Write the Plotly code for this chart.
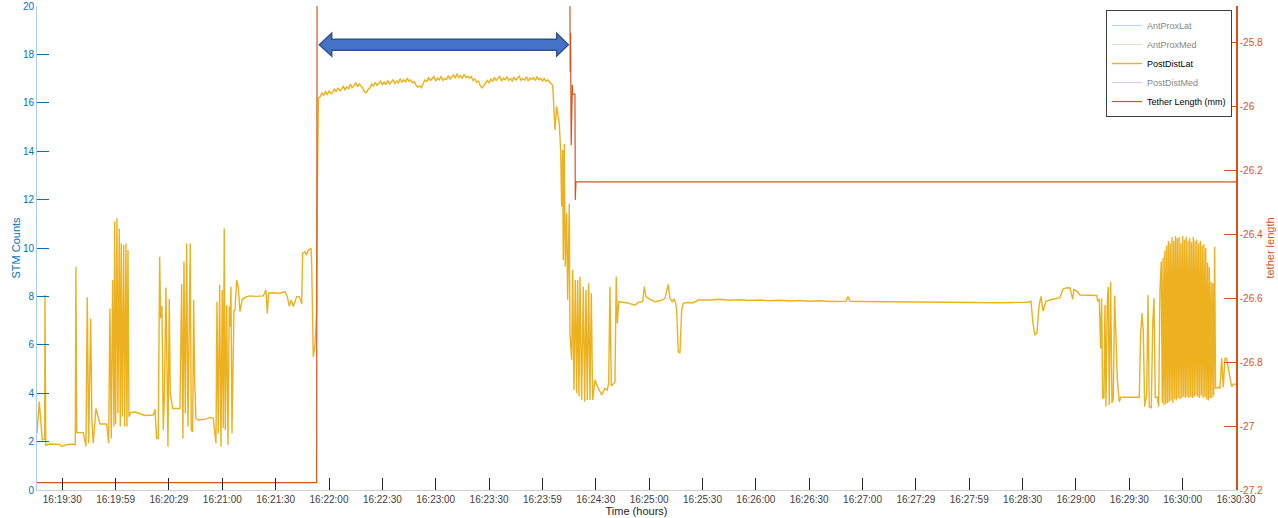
import pandas as pd
import plotly.graph_objects as go

# ---------------- data (time = seconds after 16:19:00) ----------------
BASE = pd.Timestamp("2021-01-01 16:19:00")

# PostDistLat (STM counts) : (seconds, counts)
post_early = [(15.8, 2.36), (17.07, 3.65), (18.76, 2.07), (20.1, 2.1), (20.27, 8.06), (20.72, 1.85),
    (23.09, 1.9), (28.71, 1.88), (29.83, 1.8), (32.08, 1.87), (36.19, 1.9), (37.31, 1.85),
    (37.7, 9.23), (38.1, 2.37), (41.81, 2.37), (43.33, 1.8), (44.06, 7.96), (44.85, 1.93),
    (45.97, 7.09), (46.7, 2.82), (47.43, 1.93), (48.95, 3.37), (51.2, 2.73), (54.97, 2.73),
    (56.09, 1.93), (56.82, 7.5), (57.55, 2.13), (58.34, 8.68), (59.07, 2.62), (59.47, 11.09),
    (60.03, 2.73), (60.76, 11.23), (61.32, 3.17), (62.05, 10.81), (62.62, 2.62), (63.18, 10.19),
    (63.74, 3.03), (64.53, 10.12), (65.09, 2.62), (65.82, 10.19), (66.38, 2.62), (66.95, 9.92),
    (67.51, 3.03), (68.46, 3.2), (70.88, 3.22), (76.5, 3.08), (81.17, 3.1), (82.13, 3.33),
    (83.08, 2.13), (83.98, 2.13), (84.77, 9.64), (85.33, 7.1), (86.06, 7.6), (86.8, 2.48),
    (87.36, 3.72), (88.31, 8.37), (89.44, 1.79), (90.17, 7.89), (90.73, 4.0), (92.08, 3.37),
    (96.19, 3.37), (97.14, 8.51), (97.87, 2.13), (98.44, 9.44), (99.17, 3.17), (99.95, 10.19),
    (100.68, 2.62), (101.98, 10.19), (102.54, 2.48), (103.32, 2.4), (103.89, 7.85), (104.45, 4.55),
    (105.18, 2.96), (106.48, 2.89), (111.2, 2.94), (113.05, 3.0), (114.91, 2.96), (116.43, 1.93),
    (116.99, 7.78), (117.72, 2.34), (118.51, 8.48), (119.24, 1.79), (119.97, 8.26), (120.53, 2.55),
    (121.1, 10.81), (121.66, 2.48), (122.45, 7.64), (123.18, 1.86), (123.91, 7.58), (124.3, 6.75),
    (124.86, 8.4), (125.43, 2.34), (126.55, 7.44), (127.11, 7.4), (128.07, 8.68), (128.97, 8.4),
    (129.93, 7.37), (131.22, 7.88), (133.69, 7.99), (135.55, 8.02), (139.0, 8.0), (143.03, 8.02),
    (144.54, 8.26), (145.28, 7.3), (146.06, 8.13), (148.65, 8.15), (152.42, 8.13), (155.23, 8.2),
    (156.52, 8.0), (157.65, 7.6), (158.77, 7.85), (159.9, 7.58), (161.81, 7.99), (163.27, 7.99),
    (164.62, 7.69), (165.18, 9.78), (166.48, 9.85), (167.3, 9.7), (168.33, 9.92), (169.85, 10.0),
    (170.24, 9.4), (170.58, 7.16), (171.14, 5.51), (172.1, 5.99), (173.05, 7.3), (173.5, 13.0),
    (174.06, 16.2)]

post_plateau = [(175, 16.25), (176, 16.4), (177, 16.3), (178, 16.48), (179, 16.32), (180, 16.5),
    (181, 16.38), (182, 16.42), (183, 16.58), (184, 16.45), (185, 16.62), (186, 16.5), (187, 16.55),
    (188, 16.7), (189, 16.52), (190, 16.66), (191, 16.58), (192, 16.78), (193, 16.62), (194, 16.7),
    (195, 16.84), (196, 16.66), (197, 16.78), (198, 16.7), (199, 16.6), (200, 16.45), (201, 16.42),
    (202, 16.55), (203, 16.62), (204, 16.78), (205, 16.68), (206, 16.85), (207, 16.72), (208, 16.8),
    (209, 16.9), (210, 16.74), (211, 16.86), (212, 16.75), (213, 16.92), (214, 16.78), (215, 16.85),
    (216, 16.95), (217, 16.8), (218, 16.9), (219, 16.82), (220, 17.0), (221, 16.85), (222, 16.95),
    (223, 16.86), (224, 17.02), (225, 16.88), (226, 16.94), (227, 16.82), (228, 16.88), (229, 16.72),
    (230, 16.65), (231, 16.7), (232, 16.62), (233, 16.82), (234, 16.95), (235, 16.88), (236, 17.05),
    (237, 16.92), (238, 17.0), (239, 17.08), (240, 16.9), (241, 17.02), (242, 16.95), (243, 17.1),
    (244, 16.92), (245, 17.0), (246, 16.96), (247, 17.12), (248, 16.98), (249, 17.05), (250, 17.15),
    (251, 17.02), (252, 17.2), (253, 17.05), (254, 17.12), (255, 17.0), (256, 17.18), (257, 17.04),
    (258, 17.1), (259, 17.02), (260, 17.08), (261, 16.92), (262, 16.98), (263, 16.85), (264, 16.9),
    (265, 16.72), (266, 16.62), (267, 16.7), (268, 16.8), (269, 16.92), (270, 16.82), (271, 16.98),
    (272, 16.88), (273, 17.05), (274, 16.92), (275, 17.0), (276, 17.1), (277, 16.9), (278, 17.02),
    (279, 16.95), (280, 17.08), (281, 16.92), (282, 17.0), (283, 16.9), (284, 17.06), (285, 16.94),
    (286, 17.02), (287, 17.1), (288, 16.92), (289, 17.0), (290, 16.94), (291, 17.08), (292, 16.9),
    (293, 17.02), (294, 16.96), (295, 17.05), (296, 16.92), (297, 17.08), (298, 16.95), (299, 17.02),
    (300, 16.9), (301, 17.0), (302, 16.88), (303, 16.95), (304, 16.85), (305, 16.8), (305.8, 16.7)]

post_drop = [(307.06, 14.88), (308.0, 15.84), (308.9, 15.5), (309.47, 15.15), (310.25, 14.05),
    (310.82, 11.7), (311.38, 14.05), (311.72, 9.5), (312.28, 14.3), (312.84, 9.23), (313.63, 11.43),
    (314.19, 7.85), (315.09, 11.84), (315.48, 6.47), (316.44, 5.37), (317.0, 9.09), (317.74, 4.13),
    (318.47, 8.68), (319.26, 4.0), (319.82, 8.68), (320.55, 3.86), (321.11, 8.81), (322.07, 3.72),
    (322.97, 8.4), (323.76, 3.65), (324.49, 8.26), (325.22, 3.72), (326.0, 8.54), (326.73, 3.72),
    (327.47, 8.13), (328.25, 3.72), (329.55, 4.55), (331.4, 4.2), (333.31, 3.93), (335.17, 4.2),
    (336.46, 4.13), (337.25, 4.4), (337.98, 8.4), (338.71, 4.3), (339.84, 4.4), (340.8, 4.45),
    (341.5, 8.81), (342.09, 6.89), (342.93, 7.78)]

post_flat = [(347.38, 7.74), (352.04, 7.64), (353.9, 7.75), (356.37, 7.79), (357.27, 8.4),
    (358.23, 7.99), (360.47, 7.88), (363.28, 7.78), (366.1, 7.82), (368.91, 7.92), (370.77, 8.5),
    (371.72, 7.92), (373.01, 7.78), (373.97, 7.9), (374.93, 7.71), (375.49, 7.44), (376.39, 5.72),
    (377.35, 5.65), (378.3, 7.44), (379.2, 7.71), (381.11, 7.74), (384.82, 7.74), (387.64, 7.85),
    (394.22, 7.85), (399.83, 7.88), (405.0, 7.84), (411.08, 7.86), (416.0, 7.83), (422.33, 7.85),
    (428.0, 7.82), (433.57, 7.84), (439.0, 7.81), (444.82, 7.83), (450.0, 7.8), (456.07, 7.82),
    (462.0, 7.79), (467.31, 7.81), (470.69, 7.8), (471.81, 8.0), (472.94, 7.8), (480.0, 7.79),
    (489.8, 7.78), (500.0, 7.77), (512.3, 7.76), (523.0, 7.75), (534.8, 7.74), (546.0, 7.75),
    (557.27, 7.74), (565.0, 7.75), (573.02, 7.76)]

post_late = [(574.71, 7.8), (575.83, 6.9), (576.96, 6.4), (578.08, 6.5), (579.21, 7.6),
    (580.33, 8.0), (581.46, 7.4), (583.14, 7.8), (585.39, 7.85), (588.2, 7.9), (591.0, 7.95),
    (592.7, 8.3), (594.4, 8.35), (596.64, 8.36), (598.16, 7.88), (598.9, 8.29), (600.75, 8.2),
    (602.25, 8.06), (606.02, 8.04), (611.64, 8.04), (612.2, 7.8), (613.11, 7.9), (613.89, 5.85),
    (614.45, 7.92), (615.02, 3.79), (615.75, 3.8), (616.31, 7.64), (616.87, 3.44), (617.6, 7.7),
    (618.17, 8.4), (618.73, 3.51), (619.52, 8.61), (620.25, 3.6), (620.98, 3.75), (621.77, 8.04),
    (622.5, 6.68), (623.24, 4.6), (624.36, 3.65), (625.15, 3.83), (635.61, 3.83), (636.4, 6.47),
    (637.13, 7.3), (637.86, 6.6), (638.65, 3.44), (639.77, 3.95), (640.5, 8.06), (641.24, 3.44),
    (642.36, 3.4), (643.15, 6.8), (643.88, 7.92), (644.61, 3.83), (645.74, 3.83), (646.52, 3.44),
    (647.25, 8.26), (647.98, 9.44), (648.55, 3.6)]

post_burst = [(649.0, 9.6), (649.5, 3.5), (650.0, 9.9), (650.5, 3.55), (651.0, 10.1), (651.5, 3.6),
    (652.0, 10.3), (652.5, 3.65), (653.0, 10.2), (653.5, 3.7), (654.0, 10.45), (654.5, 3.6),
    (655.0, 10.3), (655.5, 3.75), (656.0, 10.5), (656.5, 3.7), (657.0, 10.4), (657.5, 3.8),
    (658.0, 10.45), (658.5, 3.75), (659.0, 10.2), (659.5, 3.8), (660.0, 10.5), (660.5, 3.85),
    (661.0, 10.35), (661.5, 3.8), (662.0, 10.45), (662.5, 3.85), (663.0, 10.3), (663.5, 3.8),
    (664.0, 10.4), (664.5, 3.85), (665.0, 10.25), (665.5, 3.8), (666.0, 10.45), (666.5, 3.85),
    (667.0, 10.3), (667.5, 3.9), (668.0, 10.35), (668.5, 3.85), (669.0, 10.2), (669.5, 3.8),
    (670.0, 10.3), (670.5, 3.9), (671.0, 10.1), (671.5, 3.8), (672.0, 10.15), (672.5, 3.85),
    (673.0, 10.0), (673.5, 3.75), (674.0, 9.4), (674.5, 3.7), (675.0, 9.2), (675.5, 3.8),
    (676.0, 8.6), (676.5, 3.8), (677.0, 8.54), (677.5, 3.9), (678.0, 10.05), (678.5, 4.2)]

post_tail = [(679.14, 4.2), (680.04, 4.25), (681.0, 4.2), (681.95, 5.44), (682.85, 4.25),
    (683.81, 5.44), (684.76, 5.44), (685.66, 5.03), (686.6, 4.6), (687.56, 4.27), (688.46, 4.37),
    (689.98, 4.37)]

# Tether length (mm) : (seconds, mm)
tether = [(15.8, -27.177), (173.05, -27.177), (173.3, -25.5), (315.37, -25.5), (315.6, -25.893),
    (315.82, -25.772), (316.16, -26.122), (316.84, -25.934), (317.0, -25.963), (318.3, -25.963),
    (318.47, -26.294), (318.86, -26.237), (690.0, -26.237)]

# hidden (legend-only) channels: no samples shown in the figure
ant_prox_lat = [None]
ant_prox_med = [None]
post_dist_med = [None]

x_tick_seconds = [30, 60, 90, 120, 150, 180, 210, 240, 270, 300, 330, 360, 390, 420, 450,
                  480, 510, 540, 570, 600, 630, 660, 690]
x_tick_labels = ["16:19:30", "16:19:59", "16:20:29", "16:21:00", "16:21:30", "16:22:00",
                 "16:22:30", "16:23:00", "16:23:30", "16:23:59", "16:24:30", "16:25:00",
                 "16:25:30", "16:26:00", "16:26:30", "16:27:00", "16:27:29", "16:27:59",
                 "16:28:30", "16:29:00", "16:29:30", "16:30:00", "16:30:30"]
left_ticks = [0, 2, 4, 6, 8, 10, 12, 14, 16, 18, 20]
right_ticks = [-27.2, -27.0, -26.8, -26.6, -26.4, -26.2, -26.0, -25.8]
right_tick_labels = ["-27.2", "-27", "-26.8", "-26.6", "-26.4", "-26.2", "-26", "-25.8"]
X_RANGE = [15.8, 690.0]
Y_RANGE = [0, 20]
Y2_RANGE = [-27.2, -25.6875]


def to_time(sec):
    return BASE + pd.to_timedelta(sec, unit="s")


post = post_early + post_plateau + post_drop + post_flat + post_late + post_burst + post_tail
post_t = [to_time(s) for s, _ in post]
post_v = [v for _, v in post]
teth_t = [to_time(s) for s, _ in tether]
teth_v = [v for _, v in tether]
hidden_t = [to_time(X_RANGE[0])]

BLUE = "#0072BD"
ORANGE = "#D95319"
YELLOW = "#EDB120"
FONT = "Liberation Sans, Arial, Helvetica, sans-serif"

fig = go.Figure()
fig.add_trace(go.Scatter(x=hidden_t, y=ant_prox_lat, mode="lines", name="AntProxLat",
                         line=dict(color="#51B9E5", width=1), visible="legendonly"))
fig.add_trace(go.Scatter(x=hidden_t, y=ant_prox_med, mode="lines", name="AntProxMed",
                         line=dict(color="#B1D191", width=1), visible="legendonly"))
fig.add_trace(go.Scatter(x=post_t, y=post_v, mode="lines", name="PostDistLat",
                         line=dict(color=YELLOW, width=1.4)))
fig.add_trace(go.Scatter(x=hidden_t, y=post_dist_med, mode="lines", name="PostDistMed",
                         line=dict(color="#C191D1", width=1), visible="legendonly"))
fig.add_trace(go.Scatter(x=teth_t, y=teth_v, mode="lines", name="Tether Length (mm)",
                         line=dict(color=ORANGE, width=1.2), yaxis="y2"))

# block double arrow annotation (pixel layout -> paper coords)
PLOT_L, PLOT_R, PLOT_T, PLOT_B = 37, 1236, 6, 490
arrow_px = [(319.3, 44.7), (331.7, 33.3), (331.7, 39.3), (556.7, 39.3), (556.7, 33.3),
            (568.3, 44.7), (556.7, 56.0), (556.7, 50.3), (331.7, 50.3), (331.7, 56.0)]


def paper(p):
    return ((p[0] - PLOT_L) / (PLOT_R - PLOT_L), (PLOT_B - p[1]) / (PLOT_B - PLOT_T))


pts = [paper(p) for p in arrow_px]
path = "M " + " L ".join(f"{x:.5f},{y:.5f}" for x, y in pts) + " Z"
fig.add_shape(type="path", path=path, xref="paper", yref="paper",
              fillcolor="#4472C4", line=dict(color="#2F528F", width=1.5))

fig.update_layout(
    width=1278, height=518,
    margin=dict(l=PLOT_L, r=1278 - PLOT_R, t=PLOT_T, b=518 - PLOT_B),
    paper_bgcolor="white", plot_bgcolor="white",
    font=dict(family=FONT, size=10, color="#262626"),
    showlegend=True,
    legend=dict(x=0.9967, y=0.9917, xanchor="right", yanchor="top",
                bgcolor="white", bordercolor="#404040", borderwidth=1,
                font=dict(size=9, color="black"), tracegroupgap=0),
    xaxis=dict(type="date", range=[to_time(X_RANGE[0]), to_time(X_RANGE[1])],
               tickvals=[to_time(s) for s in x_tick_seconds], ticktext=x_tick_labels,
               ticks="inside", ticklen=12, tickcolor="#262626", tickwidth=1,
               showline=True, linecolor="#d0d0d0", linewidth=1,
               showgrid=False, zeroline=False, automargin=False,
               tickfont=dict(size=10, color="#404040"),
               title=dict(text="Time (hours)", font=dict(size=11, color="#262626"), standoff=2)),
    yaxis=dict(range=Y_RANGE, tickvals=left_ticks, ticks="inside", ticklen=12,
               tickcolor=BLUE, tickwidth=1, showline=True, linecolor="#A8CDEA", linewidth=1,
               showgrid=False, zeroline=False, automargin=False,
               tickfont=dict(size=10, color=BLUE),
               title=dict(text="STM Counts", font=dict(size=11, color=BLUE), standoff=0)),
    yaxis2=dict(range=Y2_RANGE, overlaying="y", side="right", tickvals=right_ticks,
                ticktext=right_tick_labels, ticks="inside", ticklen=12, tickcolor=ORANGE,
                tickwidth=1, showline=True, linecolor=ORANGE, linewidth=1.5,
                showgrid=False, zeroline=False, automargin=False,
                tickfont=dict(size=10, color=ORANGE),
                title=dict(text="tether length", font=dict(size=11, color=ORANGE), standoff=4)),
)

fig.write_html("out.html", config={"displayModeBar": False},
               post_script="document.body.style.margin='0px';document.body.style.overflow='hidden';")
